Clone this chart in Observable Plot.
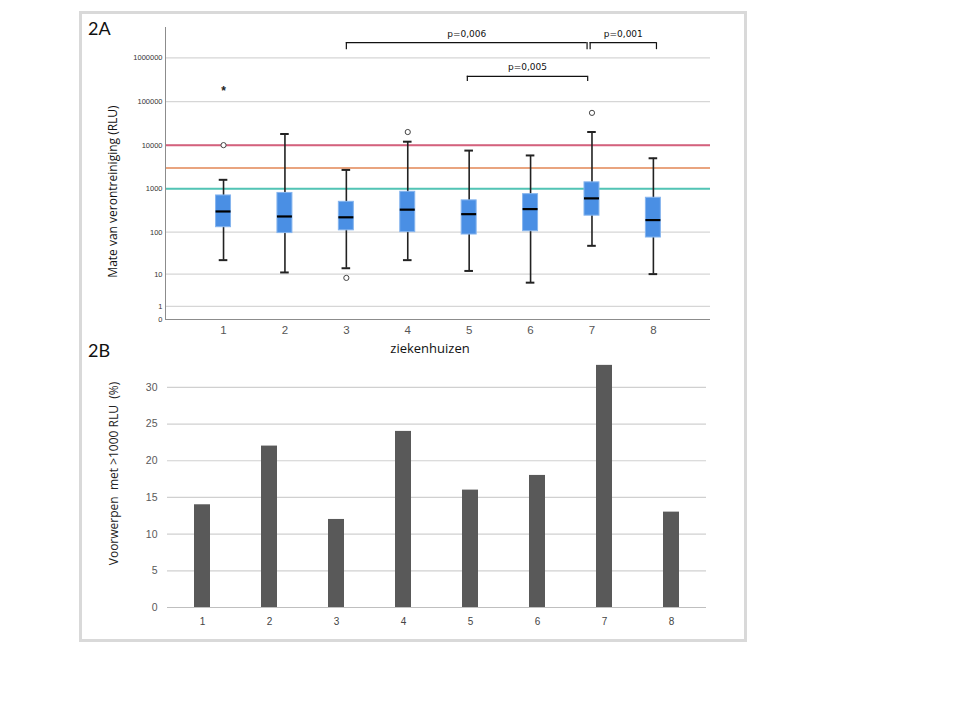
<!DOCTYPE html>
<html>
<head>
<meta charset="utf-8">
<script src="https://cdn.jsdelivr.net/npm/d3@7"></script>
<script src="https://cdn.jsdelivr.net/npm/@observablehq/plot@0.6"></script>
<style>
  html, body { margin: 0; padding: 0; background: #fff; }
  #page { position: relative; width: 960px; height: 720px; }
  #frame { position: absolute; left: 79px; top: 11px; width: 662px; height: 625px; border: 3px solid #d9d9d9; }
  .panel { position: absolute; left: 0; }
  .tag { position: absolute; font-family: Lato, "Open Sans", sans-serif; font-size: 18px; color: #111; }
</style>
</head>
<body>
<div id="page">
  <div id="frame"></div>
  <div id="panelA" class="panel" style="top:0"></div>
  <div id="panelB" class="panel" style="top:340px"></div>
  <div class="tag" style="left:88px;top:17px">2A</div>
  <div class="tag" style="left:88px;top:339px">2B</div>
</div>
<script>
// ---------- data: panel 2A (RLU per hospital, box plot) ----------
const hospitals   = [1, 2, 3, 4, 5, 6, 7, 8];
const whiskerLow  = [22, 11, 14, 22, 12, 6, 48, 10];
const q1          = [130, 95, 110, 100, 88, 105, 240, 75];
const median      = [300, 230, 220, 330, 260, 340, 600, 190];
const q3          = [700, 800, 500, 850, 540, 750, 1400, 620];
const whiskerHigh = [1600, 18000, 2700, 12000, 7500, 5800, 20000, 5000];
const outlierHospital = [1, 3, 4, 7];
const outlierValue    = [10000, 8, 20000, 55000];
const extremeHospital = [1];
const extremeValue    = [170000];
const thresholds      = [1000, 3000, 10000];
const thresholdColors = ["#52c4b5", "#e9a47f", "#d5617d"];
const yTicksA     = [0, 1, 10, 100, 1000, 10000, 100000, 1000000];
const bracketFrom  = [3, 6.97, 4.97];
const bracketTo    = [6.92, 8.05, 6.93];
const bracketLevel = [2.25e6, 2.25e6, 3.8e5];
const bracketFoot  = [1.55e6, 1.55e6, 2.9e5];
const bracketLabel = ["p=0,006", "p=0,001", "p=0,005"];

// ---------- data: panel 2B (% objects > 1000 RLU) ----------
const pctAbove1000 = [14, 22, 12, 24, 16, 18, 33, 13];
const yTicksB = [0, 5, 10, 15, 20, 25, 30];

// ---------- derived tables ----------
const boxes = hospitals.map((h, i) => ({h, lo: whiskerLow[i], q1: q1[i], med: median[i], q3: q3[i], hi: whiskerHigh[i]}));
const outliers = outlierHospital.map((h, i) => ({h, v: outlierValue[i]}));
const extremes = extremeHospital.map((h, i) => ({h, v: extremeValue[i]}));
const refLines = thresholds.map((v, i) => ({v, c: thresholdColors[i]}));
const brackets = bracketLabel.map((l, i) => ({x1: bracketFrom[i], x2: bracketTo[i], y: bracketLevel[i], foot: bracketFoot[i], label: l}));
const bars = hospitals.map((h, i) => ({h: String(h), v: pctAbove1000[i]}));

const BW = 0.122;   // half box width in category units
const CW = 0.07;    // half cap width

const chartA = Plot.plot({
  width: 760, height: 362,
  marginLeft: 165, marginRight: 50, marginTop: 27, marginBottom: 43,
  style: {background: "transparent", fontFamily: "Liberation Sans, Arial, sans-serif"},
  x: {type: "linear", domain: [0.055, 8.93]},
  y: {type: "symlog", constant: 1, domain: [0, 5e6]},
  marks: [
    Plot.ruleY(yTicksA.filter(d => d > 0), {stroke: "#d6d6d6", strokeWidth: 1.2}),
    Plot.ruleY(refLines, {y: "v", stroke: "c", strokeWidth: 2}),
    Plot.ruleX([0.055], {y1: 0, y2: 5e6, stroke: "#8c8c8c"}),
    Plot.ruleY([0], {stroke: "#8c8c8c"}),
    Plot.axisY(yTicksA, {tickSize: 0, tickPadding: 3, fontSize: 7.5, fill: "#333", tickFormat: d => String(d), label: null}),
    Plot.axisX(hospitals, {tickSize: 0, tickPadding: 6, fontSize: 11.5, fill: "#555", label: null}),
    Plot.ruleX(boxes, {x: "h", y1: "lo", y2: "hi", stroke: "#222", strokeWidth: 1.6}),
    Plot.ruleY(boxes, {y: "lo", x1: d => d.h - CW, x2: d => d.h + CW, stroke: "#222", strokeWidth: 2}),
    Plot.ruleY(boxes, {y: "hi", x1: d => d.h - CW, x2: d => d.h + CW, stroke: "#222", strokeWidth: 2}),
    Plot.rect(boxes, {x1: d => d.h - BW, x2: d => d.h + BW, y1: "q1", y2: "q3", fill: "#4a8fe4", stroke: "#86b5ee", strokeWidth: 1}),
    Plot.ruleY(boxes, {y: "med", x1: d => d.h - BW, x2: d => d.h + BW, stroke: "#000", strokeWidth: 2.2}),
    Plot.dot(outliers, {x: "h", y: "v", r: 2.6, stroke: "#444", fill: "white", strokeWidth: 1}),
    Plot.text(extremes, {x: "h", y: "v", text: () => "*", fontSize: 12, fontWeight: "bold", fill: "#222", dy: 0}),
    Plot.ruleY(brackets, {y: "y", x1: "x1", x2: "x2", stroke: "#111", strokeWidth: 1.2}),
    Plot.ruleX(brackets, {x: "x1", y1: "foot", y2: "y", stroke: "#111", strokeWidth: 1.2}),
    Plot.ruleX(brackets, {x: "x2", y1: "foot", y2: "y", stroke: "#111", strokeWidth: 1.2}),
    Plot.text(brackets, {x: d => (d.x1 + d.x2) / 2, y: "y", text: "label", dy: -9, fontSize: 9, fill: "#111", fontFamily: "DejaVu Sans, Verdana, sans-serif"}),
    Plot.text(["Mate van verontreiniging (RLU)"], {frameAnchor: "left", textAnchor: "middle", dx: -52, dy: 18, rotate: -90, text: d => d, fontSize: 12, fill: "#111", fontFamily: "Open Sans, sans-serif"}),
    Plot.text(["ziekenhuizen"], {frameAnchor: "bottom", dx: -8, dy: 33, text: d => d, fontSize: 13, fill: "#111", fontFamily: "Open Sans, sans-serif"})
  ]
});
document.getElementById("panelA").append(chartA);

const chartB = Plot.plot({
  width: 760, height: 300,
  marginLeft: 167, marginRight: 54, marginTop: 19, marginBottom: 33,
  style: {background: "transparent", fontFamily: "Liberation Sans, Arial, sans-serif"},
  x: {type: "band", domain: hospitals.map(String), padding: 0.762, paddingOuter: 0.381, align: 0.5},
  y: {domain: [0, 33.8]},
  marks: [
    Plot.ruleY(yTicksB.filter(d => d > 0), {stroke: "#d0d0d0", strokeWidth: 1.2}),
    Plot.ruleX([0], {frameAnchor: "left", y1: 0, y2: 33.8, stroke: "#bfbfbf"}),
    Plot.axisY(yTicksB, {tickSize: 0, tickPadding: 10, fontSize: 10.5, fill: "#595959", label: null}),
    Plot.axisX({tickSize: 0, tickPadding: 10, fontSize: 10, fill: "#444", label: null}),
    Plot.barY(bars, {x: "h", y: "v", fill: "#595959"}),
    Plot.ruleY([0], {stroke: "#bfbfbf", strokeWidth: 1.2}),
    Plot.text(["Voorwerpen\u00a0 met >1000 RLU\u00a0 (%)"], {frameAnchor: "left", textAnchor: "middle", dx: -53, dy: -10, rotate: -90, text: d => d, fontSize: 12, fill: "#222", fontFamily: "Open Sans, sans-serif"})
  ]
});
document.getElementById("panelB").append(chartB);
</script>
</body>
</html>
